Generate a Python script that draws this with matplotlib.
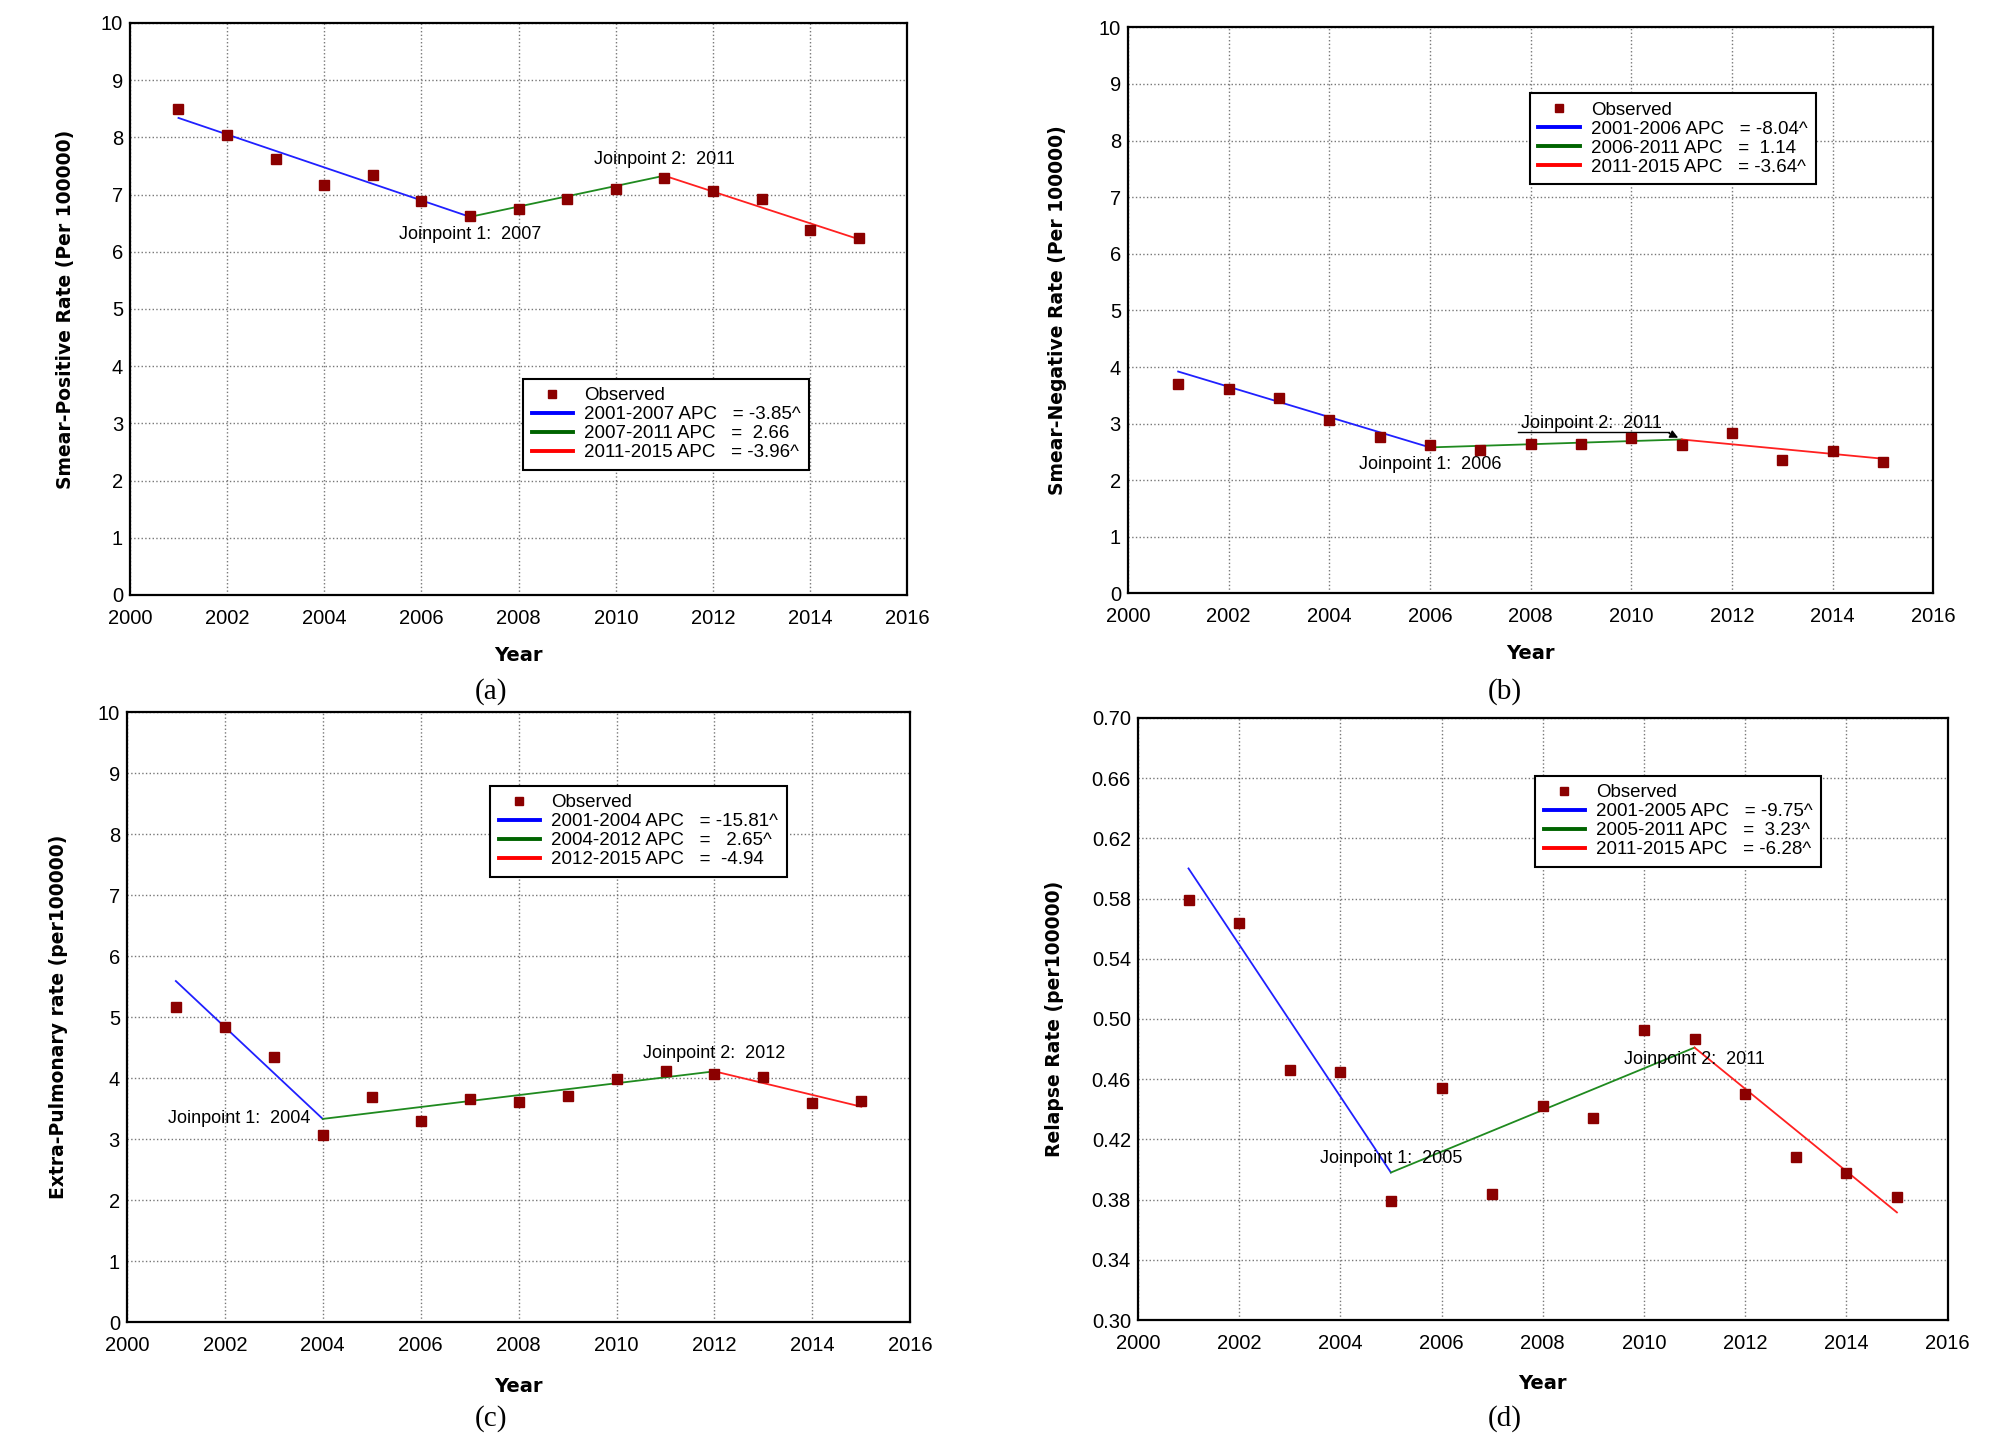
import numpy as np
import matplotlib.pyplot as plt
from matplotlib.lines import Line2D

plt.rcParams['font.family'] = ['Liberation Sans', 'DejaVu Sans']

years = list(range(2001, 2016))

# observed rates
obs_a = [8.50, 8.04, 7.62, 7.17, 7.34, 6.89, 6.62, 6.75, 6.93, 7.10, 7.29, 7.06, 6.93, 6.38, 6.24]
obs_b = [3.70, 3.61, 3.46, 3.07, 2.76, 2.63, 2.54, 2.64, 2.64, 2.74, 2.63, 2.84, 2.36, 2.52, 2.32]
obs_c = [5.17, 4.83, 4.35, 3.07, 3.69, 3.30, 3.65, 3.60, 3.70, 3.98, 4.12, 4.06, 4.02, 3.59, 3.63]
obs_d = [0.579, 0.564, 0.466, 0.465, 0.379, 0.454, 0.384, 0.442, 0.434, 0.493, 0.487, 0.450, 0.408, 0.398, 0.382]

# joinpoint model values at segment ends
jp_a = [2001, 2007, 2011, 2015]
fit_a = [8.34, 6.61, 7.33, 6.22]
jp_b = [2001, 2006, 2011, 2015]
fit_b = [3.92, 2.58, 2.72, 2.38]
jp_c = [2001, 2004, 2012, 2015]
fit_c = [5.59, 3.33, 4.11, 3.53]
jp_d = [2001, 2005, 2011, 2015]
fit_d = [0.600, 0.398, 0.481, 0.3715]

apc_a = ['2001-2007 APC   = -3.85^', '2007-2011 APC   =  2.66', '2011-2015 APC   = -3.96^']
apc_b = ['2001-2006 APC   = -8.04^', '2006-2011 APC   =  1.14', '2011-2015 APC   = -3.64^']
apc_c = ['2001-2004 APC   = -15.81^', '2004-2012 APC   =   2.65^', '2012-2015 APC   =  -4.94']
apc_d = ['2001-2005 APC   = -9.75^', '2005-2011 APC   =  3.23^', '2011-2015 APC   = -6.28^']

seg_colors = ['#2020ff', '#1f8a1f', '#ff2020']
leg_colors = ['#0000ff', '#006400', '#ff0000']
obs_color = '#8b0000'


def panelSetup(fig, rect, ylim, yticks, yfmt, ylabel, ylabelx):
    ax = fig.add_axes(rect)
    ax.set_xlim(2000, 2016)
    ax.set_ylim(ylim)
    ax.set_xticks(range(2000, 2017, 2))
    ax.set_yticks(yticks)
    ax.set_yticklabels([yfmt.format(v) for v in yticks])
    ax.tick_params(length=0, labelsize=14.5, pad=5)
    ax.tick_params(axis='x', pad=10)
    ax.grid(True, linestyle=':', color='#777777', lw=1.0)
    for s in ax.spines.values():
        s.set_linewidth(1.6)
    ax.set_ylabel(ylabel, family='DejaVu Sans', fontweight='bold', fontsize=13.5)
    ax.yaxis.set_label_coords(ylabelx, 0.5)
    ax.set_xlabel('Year', family='DejaVu Sans', fontweight='bold', fontsize=14)
    ax.xaxis.set_label_coords(0.5, -0.09)
    return ax


def drawPanel(ax, obs, jp, fit, labels, legxy):
    for k in range(3):
        ax.plot(jp[k:k + 2], fit[k:k + 2], color=seg_colors[k], lw=1.3, zorder=3)
    ax.plot(years, obs, 's', color=obs_color, ms=7, zorder=4)
    handles = [Line2D([], [], ls='none', marker='s', color=obs_color, ms=6)]
    handles += [Line2D([], [], color=c, lw=2.8) for c in leg_colors]
    leg = ax.legend(handles, ['Observed'] + labels, loc='upper left', bbox_to_anchor=legxy,
                    fontsize=13.5, frameon=True, fancybox=False, framealpha=1,
                    edgecolor='black', handlelength=2.2, labelspacing=0.1,
                    borderpad=0.45, handletextpad=0.6, borderaxespad=0)
    leg.get_frame().set_linewidth(1.5)
    leg.set_zorder(5)


fig = plt.figure(figsize=(20.14, 14.37), dpi=100)

# (a)
ax0 = panelSetup(fig, [0.0645, 0.586, 0.386, 0.398], (0, 10), range(0, 11), '{}',
                 'Smear-Positive Rate (Per 100000)', -0.071)
drawPanel(ax0, obs_a, jp_a, fit_a, apc_a, (0.506, 0.378))
ax0.text(2007, 6.30, 'Joinpoint 1:  2007', fontsize=13, ha='center', va='center')
ax0.text(2011, 7.62, 'Joinpoint 2:  2011', fontsize=13, ha='center', va='center')

# (b)
ax1 = panelSetup(fig, [0.560, 0.587, 0.400, 0.394], (0, 10), range(0, 11), '{}',
                 'Smear-Negative Rate (Per 100000)', -0.0755)
drawPanel(ax1, obs_b, jp_b, fit_b, apc_b, (0.499, 0.884))
ax1.text(2006, 2.28, 'Joinpoint 1:  2006', fontsize=13, ha='center', va='center')
ax1.text(2009.2, 3.0, 'Joinpoint 2:  2011', fontsize=13, ha='center', va='center')
ax1.plot([2007.75, 2010.75], [2.85, 2.85], color='black', lw=1.0)
ax1.annotate('', xy=(2010.98, 2.73), xytext=(2010.7, 2.85),
             arrowprops=dict(arrowstyle='-|>', color='black', lw=1.0, mutation_scale=12))

# (c)
ax2 = panelSetup(fig, [0.063, 0.080, 0.389, 0.4245], (0, 10), range(0, 11), '{}',
                 'Extra-Pulmonary rate (per100000)', -0.075)
drawPanel(ax2, obs_c, jp_c, fit_c, apc_c, (0.464, 0.879))
ax2.text(2002.3, 3.34, 'Joinpoint 1:  2004', fontsize=13, ha='center', va='center')
ax2.text(2012, 4.41, 'Joinpoint 2:  2012', fontsize=13, ha='center', va='center')

# (d)
ax3 = panelSetup(fig, [0.565, 0.0814, 0.402, 0.419], (0.30, 0.70),
                 np.round(np.arange(0.30, 0.701, 0.04), 2), '{:.2f}',
                 'Relapse Rate (per100000)', -0.091)
drawPanel(ax3, obs_d, jp_d, fit_d, apc_d, (0.491, 0.904))
ax3.text(2005, 0.407, 'Joinpoint 1:  2005', fontsize=13, ha='center', va='center')
ax3.text(2011, 0.473, 'Joinpoint 2:  2011', fontsize=13, ha='center', va='center')

for lab, x, y in [('(a)', 0.244, 0.519), ('(b)', 0.747, 0.519),
                  ('(c)', 0.244, 0.013), ('(d)', 0.747, 0.013)]:
    fig.text(x, y, lab, family='Liberation Serif', fontsize=21, ha='center', va='center')

fig.savefig('out.png', dpi=100)
